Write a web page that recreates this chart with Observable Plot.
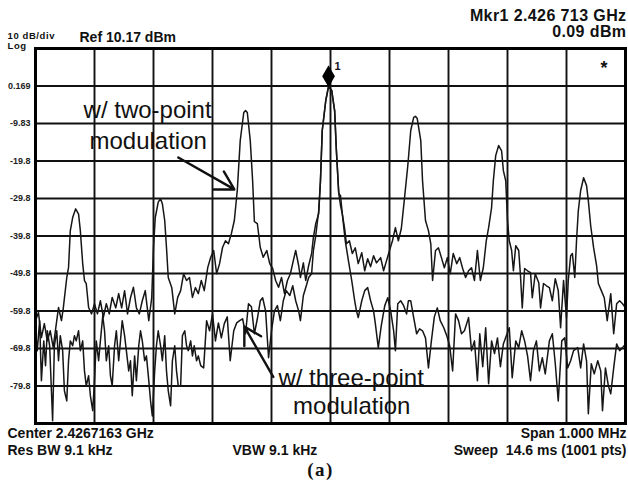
<!DOCTYPE html>
<html><head><meta charset="utf-8">
<style>body{margin:0;background:#fff} svg{display:block} .lbl-a{letter-spacing:1.5px} .hdr{letter-spacing:0.4px} .sm{letter-spacing:0.6px}</style>
<script src="https://cdn.jsdelivr.net/npm/d3@7"></script>
<script src="https://cdn.jsdelivr.net/npm/@observablehq/plot@0.6"></script>
</head><body><div id="chart"></div>
<script>
// Frequency offset from center 2.4267163 GHz (kHz), span 1 MHz
const twoPointFreq = [-500,-495,-490,-485,-480,-475,-470,-464,-461,-456,-453,-447,-444,-441,-437,-432,-427,-424,-420,-417,-414,-410,-405,-400,-395,-390,-385,-380,-375,-370,-364,-359,-354,-349,-344,-339,-334,-329,-324,-319,-314,-308,-303,-300,-297,-292,-288,-285,-281,-278,-275,-269,-264,-259,-254,-249,-244,-239,-234,-229,-224,-219,-214,-208,-203,-198,-193,-188,-183,-178,-173,-168,-163,-158,-153,-147,-144,-141,-136,-132,-129,-124,-119,-114,-108,-103,-98,-93,-88,-83,-78,-73,-68,-63,-59,-54,-51,-46,-42,-37,-32,-29,-25,-20,-17,-14,-8,-3.3,2,7,10,14,17,20,24,27,32,37,42,47,53,58,63,68,73,78,85,90,95,100,105,110,115,120,125,131,136,141,144,147,153,156,161,166,170,173,178,183,188,193,198,203,208,214,219,224,229,234,239,244,249,254,259,264,268,273,276,280,285,290,293,297,300,303,307,310,314,319,322,325,329,334,339,342,347,353,356,361,366,371,376,381,386,390,395,400,403,407,410,414,417,420,424,429,434,437,441,446,451,454,459,464,469,475,480,485,490,495,500];
const twoPointLevel = [-62.4,-60.2,-66.9,-63.2,-67.8,-65.1,-69.5,-62.4,-58.9,-62.4,-59.2,-50.9,-48.2,-38.4,-34.9,-32.6,-34.0,-38.4,-47.2,-51.7,-52.5,-58.9,-60.6,-57.9,-60.6,-57.1,-61.5,-57.9,-60.6,-56.2,-59.0,-55.2,-59.0,-54.4,-60.6,-56.3,-53.5,-59.0,-60.6,-57.1,-54.4,-62.4,-56.3,-42.9,-34.9,-30.8,-29.9,-31.2,-35.7,-42.9,-50.9,-53.6,-60.6,-56.2,-54.4,-49.9,-51.7,-50.9,-56.2,-53.6,-55.2,-51.7,-54.4,-48.2,-45.5,-43.7,-49.9,-47.2,-42.9,-41.1,-41.9,-39.2,-35.7,-27.7,-14.4,-6.9,-6.4,-6.9,-14.4,-25.1,-36.0,-36.5,-42.9,-45.5,-43.7,-47.2,-48.5,-51.7,-53.5,-50.9,-55.2,-51.7,-49.9,-46.4,-43.7,-47.7,-50.9,-47.0,-51.7,-47.7,-44.5,-40.2,-36.5,-33.9,-25.1,-11.7,-3.7,0.09,-1.0,-6.4,-17.1,-28.5,-29.1,-33.9,-37.9,-41.9,-41.1,-44.5,-43.0,-47.2,-44.3,-49.1,-45.9,-48.0,-45.1,-47.0,-45.6,-49.1,-46.4,-43.7,-41.1,-37.6,-41.1,-37.9,-30.4,-21.1,-11.7,-8.2,-7.9,-8.5,-14.4,-25.1,-35.7,-38.4,-41.9,-51.7,-43.7,-43.0,-45.6,-48.3,-45.6,-49.9,-44.5,-47.2,-45.6,-48.5,-50.9,-49.1,-48.3,-51.7,-43.7,-51.7,-48.3,-41.1,-37.6,-32.3,-25.1,-18.4,-15.7,-17.1,-22.4,-25.1,-35.7,-41.1,-43.7,-49.1,-42.4,-43.7,-50.4,-59.0,-48.5,-49.1,-49.6,-56.3,-49.9,-52.3,-59.0,-52.5,-53.1,-53.6,-57.1,-51.2,-54.4,-64.3,-51.7,-61.6,-51.7,-45.1,-44.5,-50.9,-41.1,-33.1,-27.7,-24.3,-26.4,-30.4,-37.1,-43.0,-47.7,-52.5,-54.4,-56.3,-62.4,-55.2,-65.9,-57.9,-57.1,-57.9,-59.0];

const threePointFreq = [-500,-497,-493,-490,-486,-483,-480,-476,-473,-471,-468,-464,-461,-458,-454,-451,-447,-444,-441,-437,-434,-431,-427,-424,-420,-417,-414,-410,-407,-403,-400,-397,-393,-390,-386,-383,-380,-376,-373,-370,-366,-363,-359,-356,-353,-349,-346,-342,-339,-336,-332,-329,-325,-322,-319,-315,-312,-308,-305,-302,-298,-295,-292,-288,-285,-281,-278,-275,-271,-268,-264,-261,-258,-254,-251,-247,-244,-241,-237,-234,-231,-227,-224,-220,-215,-210,-205,-200,-195,-190,-185,-180,-175,-170,-164,-159,-154,-149,-144,-139,-134,-129,-124,-119,-115,-110,-105,-100,-95,-90,-85,-80,-75,-69,-64,-59,-54,-51,-46,-41,-37,-32,-29,-25,-20,-17,-14,-8,-3.3,2,7,10,14,17,20,25,31,36,41,44,47,53,58,63,68,73,76,81,86,92,97,102,107,110,114,119,124,129,132,136,141,146,151,156,161,166,171,176,181,186,192,197,202,207,212,217,222,227,234,239,244,249,253,258,263,268,273,278,283,288,293,298,303,308,314,319,324,329,334,339,344,349,354,359,364,371,376,381,386,392,397,402,407,412,419,424,429,434,437,442,447,453,458,461,466,471,475,480,485,490,495,500];
const threePointLevel = [-65.1,-70.4,-62.4,-78.4,-67.8,-74.4,-65.1,-69.1,-81.1,-89.1,-69.1,-65.1,-73.1,-66.4,-70.4,-81.1,-83.8,-73.1,-67.8,-69.1,-66.4,-67.8,-65.1,-70.4,-67.8,-75.8,-79.8,-77.1,-82.4,-86.4,-78.4,-67.8,-73.1,-67.8,-61.1,-65.1,-73.1,-69.1,-77.1,-79.8,-69.1,-65.1,-73.1,-67.8,-62.4,-66.4,-70.4,-75.8,-73.1,-82.4,-71.8,-78.4,-69.1,-65.1,-67.8,-73.1,-71.8,-78.4,-83.8,-87.8,-75.8,-69.1,-65.1,-69.1,-73.1,-66.4,-75.8,-81.1,-85.1,-73.1,-69.1,-75.8,-79.8,-79.8,-66.4,-65.1,-69.1,-70.4,-67.8,-71.8,-69.1,-73.1,-71.8,-74.4,-75.0,-62.4,-65.1,-60.6,-67.8,-63.0,-67.0,-63.2,-61.4,-73.1,-65.1,-63.0,-62.4,-61.9,-65.9,-57.9,-58.7,-65.9,-61.9,-57.1,-56.3,-59.8,-72.3,-65.1,-59.8,-58.4,-62.4,-57.1,-54.4,-55.7,-53.1,-57.1,-59.8,-62.4,-55.7,-53.1,-50.9,-49.9,-43.7,-39.7,-33.1,-25.1,-11.7,-3.7,0.09,-1.0,-6.4,-17.1,-28.5,-31.7,-33.9,-41.1,-47.0,-51.7,-57.1,-59.8,-61.6,-57.1,-54.4,-53.6,-57.1,-59.8,-63.2,-69.6,-63.8,-58.4,-56.3,-59.8,-65.1,-70.4,-57.9,-57.1,-58.4,-60.6,-57.1,-57.1,-61.6,-65.9,-64.6,-65.1,-67.0,-75.0,-67.8,-61.4,-59.0,-62.4,-64.3,-66.4,-69.1,-75.8,-60.6,-62.4,-65.9,-65.1,-61.6,-70.4,-67.8,-78.4,-65.9,-74.7,-64.3,-79.2,-67.8,-71.2,-67.0,-74.7,-68.6,-66.4,-64.3,-77.6,-67.8,-69.6,-65.1,-67.8,-71.8,-78.4,-70.4,-67.8,-75.8,-72.3,-76.6,-67.8,-65.9,-73.9,-83.8,-67.8,-67.0,-75.0,-73.1,-70.4,-69.6,-75.0,-68.6,-73.1,-87.2,-73.9,-76.6,-73.1,-75.8,-86.4,-75.0,-79.8,-81.9,-75.0,-68.6,-70.4,-69.6,-68.6];

// Axis
const refLevel = 10.169;
const yTickValues = [0.169,-9.831,-19.831,-29.831,-39.831,-49.831,-59.831,-69.831,-79.831];
const yTickLabels = ["0.169","-9.83","-19.8","-29.8","-39.8","-49.8","-59.8","-69.8","-79.8"];
const xGridValues = [-400,-300,-200,-100,0,100,200,300,400];

// Marker
const markerFreq = -3.3, markerLevel = 0.09;

// Text
const headerRight = ["Mkr1 2.426 713 GHz", "0.09 dBm"];
const headerLeft = ["10 dB/div", "Log", "Ref 10.17 dBm"];
const footerLeft = ["Center 2.4267163 GHz", "Res BW 9.1 kHz", "VBW 9.1 kHz"];
const footerRight = ["Span 1.000 MHz", "Sweep  14.6 ms (1001 pts)"];
const annotations = [
  {text: "w/ two-point", f: -310, db: -6.3},
  {text: "modulation", f: -309, db: -14.6},
  {text: "w/ three-point", f: 35, db: -77.9},
  {text: "modulation", f: 36, db: -85.3}
];
const arrows = [
  {f1: -258, db1: -18.9, f2: -163, db2: -27.4},
  {f1: -97, db1: -77.4, f2: -146, db2: -64.0}
];

const zip = (a, b) => a.slice(0, Math.min(a.length, b.length)).map((f, i) => ({f, db: b[i]}));
const twoPoint = zip(twoPointFreq, twoPointLevel);
const threePoint = zip(threePointFreq, threePointLevel);

const tallDiamond = {
  draw(ctx, size) {
    const s = Math.sqrt(size / Math.PI);
    ctx.moveTo(0, -s * 1.9);
    ctx.lineTo(s * 1.1, 0);
    ctx.lineTo(0, s * 1.9);
    ctx.lineTo(-s * 1.1, 0);
    ctx.closePath();
  }
};

const sans = "'Liberation Sans', Arial, sans-serif";
const ink = "#111";
const label = (str, o) => Plot.text([str], {text: d => d, lineAnchor: "middle", fontWeight: "bold", fill: ink, ...o});

const chart = Plot.plot({
  width: 628,
  height: 484,
  marginLeft: 35,
  marginRight: 3,
  marginTop: 48,
  marginBottom: 61,
  style: {background: "#fff", fontFamily: sans, overflow: "visible"},
  x: {domain: [-500, 500], axis: null},
  y: {domain: [refLevel - 100, refLevel], axis: null},
  marks: [
    Plot.ruleX(xGridValues, {stroke: ink, strokeWidth: 1.9}),
    Plot.ruleY(yTickValues, {stroke: ink, strokeWidth: 1.9}),
    Plot.axisY({ticks: yTickValues, tickFormat: d => yTickLabels[yTickValues.indexOf(d)], tickSize: 0, tickPadding: 5, fontSize: 9, fontWeight: "bold", fill: "#222"}),
    Plot.line(threePoint, {x: "f", y: "db", stroke: "#161616", strokeWidth: 1.5}),
    Plot.line(twoPoint, {x: "f", y: "db", stroke: "#161616", strokeWidth: 1.5}),
    Plot.frame({stroke: "#000", strokeWidth: 3}),
    Plot.dot([{f: markerFreq, db: markerLevel}], {x: "f", y: "db", symbol: tallDiamond, r: 5, fill: "#000", stroke: "#000", dy: -10}),
    Plot.text(["1"], {x: () => markerFreq, y: () => markerLevel, text: d => d, dx: 9, dy: -20, fontSize: 11, fontWeight: "bold", fill: ink}),
    label("*", {frameAnchor: "top-right", dx: -18, dy: 20, fontSize: 18}),
    // header
    label(headerRight[0], {frameAnchor: "top-right", textAnchor: "end", dx: 1, dy: -32.5, fontSize: 16, className: "hdr"}),
    label(headerRight[1], {frameAnchor: "top-right", textAnchor: "end", dx: 1, dy: -16.5, fontSize: 16, className: "hdr"}),
    label(headerLeft[0], {frameAnchor: "top-left", textAnchor: "start", dx: -28, dy: -12.5, fontSize: 9.5, className: "sm"}),
    label(headerLeft[1], {frameAnchor: "top-left", textAnchor: "start", dx: -28, dy: -2.5, fontSize: 9.5, className: "sm"}),
    label(headerLeft[2], {frameAnchor: "top-left", textAnchor: "start", dx: 44, dy: -10.5, fontSize: 14}),
    // footer
    label(footerLeft[0], {frameAnchor: "bottom-left", textAnchor: "start", dx: -28, dy: 10.5, fontSize: 14}),
    label(footerLeft[1], {frameAnchor: "bottom-left", textAnchor: "start", dx: -28, dy: 27.5, fontSize: 14}),
    label(footerLeft[2], {frameAnchor: "bottom-left", textAnchor: "start", dx: 197, dy: 27.5, fontSize: 14}),
    label(footerRight[0], {frameAnchor: "bottom-right", textAnchor: "end", dx: 1, dy: 10.5, fontSize: 14}),
    label(footerRight[1], {frameAnchor: "bottom-right", textAnchor: "end", dx: 1, dy: 27.5, fontSize: 14}),
    label("(a)", {frameAnchor: "bottom", dx: -10, dy: 46, fontSize: 19, fontFamily: "'Liberation Serif', 'Times New Roman', serif", className: "lbl-a"}),
    // annotations
    Plot.text(annotations, {x: "f", y: "db", text: "text", fontSize: 24, fill: ink}),
    Plot.arrow(arrows, {x1: "f1", y1: "db1", x2: "f2", y2: "db2", stroke: ink, strokeWidth: 2.4, headLength: 13})
  ]
});
document.getElementById("chart").append(chart);
</script>
</body></html>
